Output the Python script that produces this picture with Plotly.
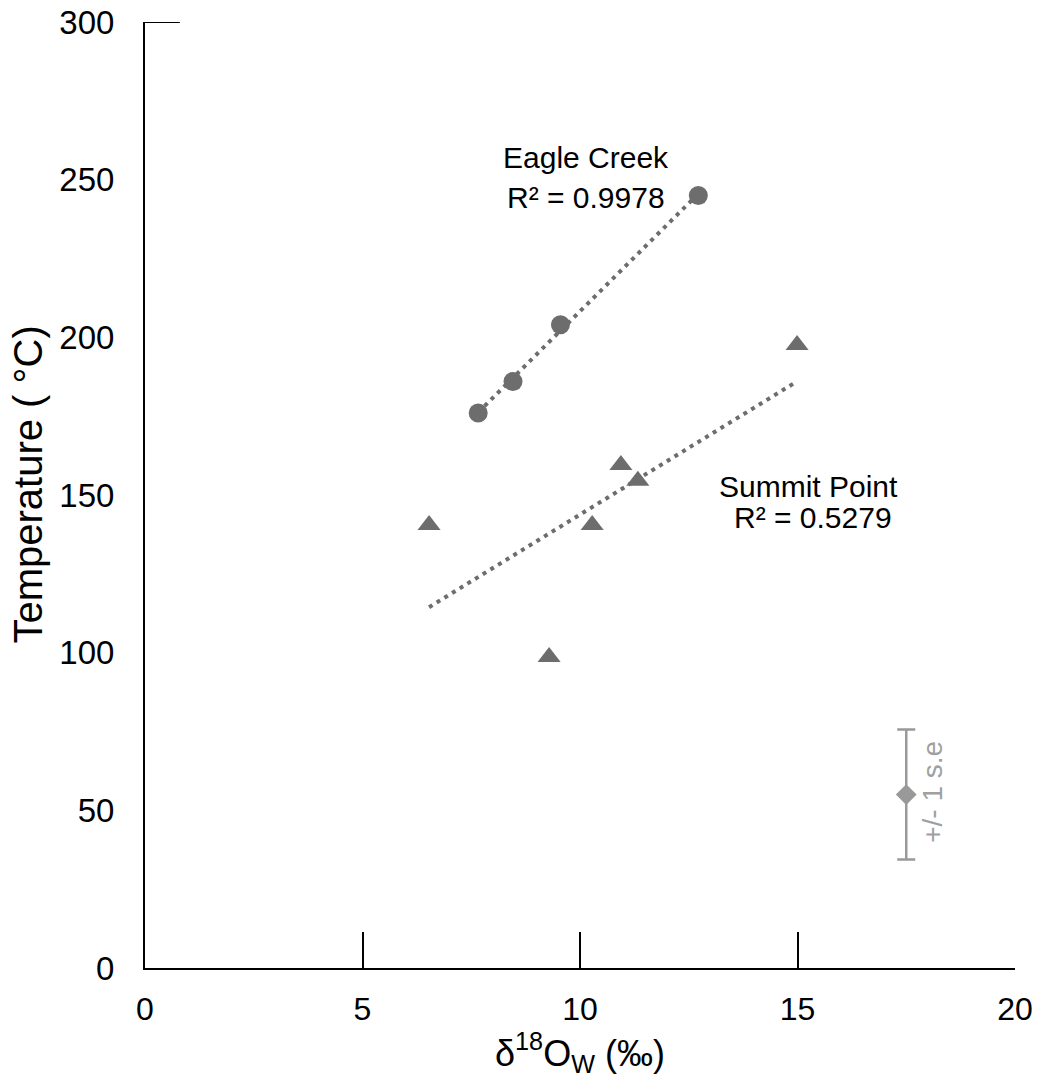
import numpy as np
import plotly.graph_objects as go

# Data
eagle_x = [7.66, 8.46, 9.55, 12.72]
eagle_y = [176.0, 186.0, 204.0, 245.0]
summit_x = [14.99, 10.94, 11.33, 6.53, 10.28, 9.29]
summit_y = [197.6, 159.5, 154.5, 140.5, 140.5, 98.6]
se_x = [17.5]
se_y = [55.0]
se_err = [20.6]
eagle_label = ["Eagle Creek", "R² = 0.9978"]
summit_label = ["Summit Point", "R² = 0.5279"]
x_ticks = [0, 5, 10, 15, 20]
y_ticks = [0, 50, 100, 150, 200, 250, 300]

MARK = "#6d6d6d"
FONT = "Liberation Sans, Arial, sans-serif"

fig = go.Figure()

def trend(xs, ys):
    m, b = np.polyfit(xs, ys, 1)
    xx = np.array([min(xs), max(xs)])
    return xx, m * xx + b

for xs, ys in [(eagle_x, eagle_y), (summit_x, summit_y)]:
    tx, ty = trend(xs, ys)
    fig.add_trace(go.Scatter(x=tx, y=ty, mode="lines",
                             line=dict(color=MARK, width=4, dash="4px,5px"),
                             showlegend=False, hoverinfo="skip"))

fig.add_trace(go.Scatter(x=eagle_x, y=eagle_y, mode="markers",
                         marker=dict(symbol="circle", size=19, color=MARK),
                         showlegend=False))
fig.add_trace(go.Scatter(x=summit_x, y=summit_y, mode="markers",
                         marker=dict(symbol="triangle-up", size=20, color=MARK),
                         showlegend=False))
fig.add_trace(go.Scatter(x=se_x, y=se_y, mode="markers",
                         marker=dict(symbol="diamond", size=16, color="#999999"),
                         error_y=dict(type="data", array=se_err, color="#999999",
                                      thickness=2.5, width=9),
                         showlegend=False))

# Annotations
ann_font = dict(size=30, color="black", family=FONT)
fig.add_annotation(x=10.13, y=256.9, text=eagle_label[0], showarrow=False, font=ann_font)
fig.add_annotation(x=10.14, y=244.5, text=eagle_label[1], showarrow=False, font=ann_font)
fig.add_annotation(x=15.26, y=152.8, text=summit_label[0], showarrow=False, font=ann_font)
fig.add_annotation(x=15.36, y=143.0, text=summit_label[1], showarrow=False, font=ann_font)
fig.add_annotation(x=18.1, y=56, text="+/- 1 s.e", showarrow=False, textangle=-90,
                   font=dict(size=28, color="#a0a0a0", family=FONT))

# y-axis title as annotation for exact placement
fig.add_annotation(xref="paper", yref="paper", x=-0.1345, y=0.511,
                   xanchor="center", yanchor="middle",
                   text="Temperature ( °C)", showarrow=False, textangle=-90,
                   font=dict(size=40, family=FONT, color="black"))

# top tick of y-axis
fig.add_shape(type="line", x0=0, x1=0.8, y0=300, y1=300, xref="x", yref="y",
              line=dict(color="black", width=2))

fig.update_xaxes(range=[0, 20], tickvals=x_ticks, ticks="inside", ticklen=36,
                 tickwidth=1.5, tickcolor="black", showline=True, linecolor="black",
                 linewidth=2, showgrid=False, zeroline=False, automargin=False,
                 tickfont=dict(size=32, family=FONT, color="black"),
                 ticklabelstandoff=12,
                 title=dict(text="δ<sup>18</sup>O<sub>W</sub> (‰)",
                            font=dict(size=36, family=FONT, color="black"), standoff=10))
fig.update_yaxes(range=[0, 300], tickvals=y_ticks, ticks="", showline=True,
                 linecolor="black", linewidth=2, showgrid=False, zeroline=False,
                 automargin=False,
                 tickfont=dict(size=33, family=FONT, color="black"),
                 ticklabelstandoff=22)

fig.update_layout(width=1037, height=1084, plot_bgcolor="white", paper_bgcolor="white",
                  margin=dict(l=145, r=22, t=22, b=116), font=dict(family=FONT))

fig.write_html("out.html")
